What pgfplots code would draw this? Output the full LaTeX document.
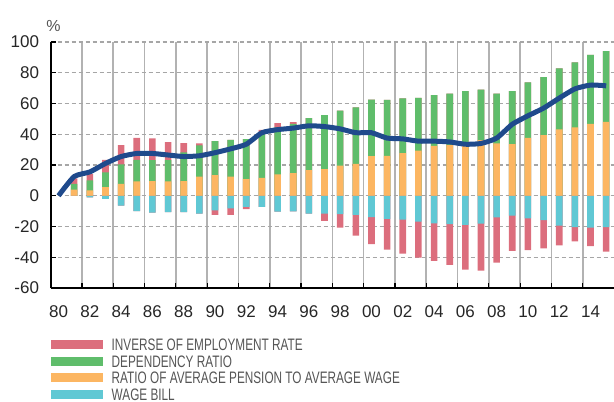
\documentclass[border=0pt]{standalone}
\usepackage{fontspec}
\setmainfont{Liberation Sans}
\newfontfamily\narrowfont[FakeStretch=0.71]{Liberation Sans}
\usepackage{pgfplots}
\usepackage{pgfplotstable}
\pgfplotsset{compat=1.18}
\definecolor{cRed}{HTML}{DC6E7D}
\definecolor{cGreen}{HTML}{5FBD6B}
\definecolor{cOrange}{HTML}{FCB662}
\definecolor{cCyan}{HTML}{60C8D4}
\definecolor{cLine}{HTML}{1F4A8C}
\definecolor{txtGray}{HTML}{555555}

\pgfplotstableread{
year O G Rp C Rn
1981 4.0 3.8 3.5 0 0
1982 3.5 6.5 4.0 -1.0 0
1983 5.6 9.6 8.2 -2.0 0
1984 7.8 12.6 12.5 -6.5 0
1985 9.3 14.1 14.3 -10.0 0
1986 9.5 13.7 14.1 -11.0 0
1987 9.3 13.9 11.7 -10.6 0
1988 9.5 18.7 6.0 -10.6 0
1989 12.4 20.3 1.3 -11.7 0
1990 13.4 22.1 0 -9.5 -2.9
1991 12.4 24.0 0 -8.2 -4.2
1992 10.8 26.0 0 -7.2 -1.5
1993 11.7 29.8 1.4 -7.2 0
1994 13.9 30.5 2.8 -10.4 0
1995 14.7 32.1 1.1 -10.2 0
1996 16.7 33.8 0 -11.7 0
1997 17.3 35.1 0 -11.7 -4.6
1998 19.6 35.8 0 -11.9 -8.9
1999 20.8 36.6 0 -12.4 -13.6
2000 25.8 36.8 0 -13.9 -17.5
2001 26.0 36.4 0 -15.0 -20.1
2002 27.7 35.6 0 -15.6 -22.1
2003 29.3 34.4 0 -16.9 -23.4
2004 32.5 32.9 0 -18.0 -24.3
2005 32.9 33.6 0 -18.4 -26.6
2006 32.3 35.7 0 -19.0 -29.0
2007 36.2 32.9 0 -18.2 -30.5
2008 34.0 32.5 0 -14.1 -29.4
2009 33.6 34.4 0 -13.0 -22.8
2010 37.6 36.1 0 -14.7 -20.6
2011 39.4 37.7 0 -15.8 -18.4
2012 43.1 39.7 0 -19.5 -12.8
2013 44.4 42.3 0 -20.4 -9.3
2014 46.8 44.9 0 -20.8 -11.9
2015 48.1 45.9 0 -20.4 -16.0
}\bars

\pgfplotstableread{
year L
1980 0
1981 12.5
1982 15.5
1983 21
1984 25.5
1985 27.5
1986 27.5
1987 26.5
1988 25.5
1989 26
1990 28
1991 30.5
1992 33.5
1993 41
1994 43
1995 44
1996 45.5
1997 45
1998 43.5
1999 41
2000 41
2001 37.5
2002 37
2003 35.5
2004 35.5
2005 35
2006 33.5
2007 34
2008 37.5
2009 46.5
2010 52
2011 57
2012 63.5
2013 69.5
2014 72
2015 71.5
}\linedata

\begin{document}
\begin{tikzpicture}
\useasboundingbox (0,0) rectangle (307pt,200.5pt);
\begin{axis}[
  at={(25.35pt,56.5pt)}, anchor=south west,
  scale only axis, width=281.65pt, height=123pt,
  xmin=1979.5, xmax=2015.5, ymin=-60, ymax=100,
  axis x line*=bottom, axis y line*=left,
  axis line style={black, line width=0.8pt},
  ybar, bar width=3.3pt,
  xtick={1980,1982,1984,1986,1988,1990,1992,1994,1996,1998,2000,2002,2004,2006,2008,2010,2012,2014},
  xticklabels={80,82,84,86,88,90,92,94,96,98,00,02,04,06,08,10,12,14},
  major x tick style={draw=none},
  minor xtick={1981.5,1983.5,1985.5,1987.5,1989.5,1991.5,1993.5,1995.5,1997.5,1999.5,2001.5,2003.5,2005.5,2007.5,2009.5,2011.5,2013.5},
  xminorgrids, minor x grid style={black!30, line width=0.8pt},
  minor x tick style={black, line width=0.6pt},
  ytick={-60,-40,-20,0,20,40,60,80,100},
  yticklabels={-60,-40,-20,0,20,40,60,80,100},
  ymajorgrids, major y grid style={black!35, line width=0.6pt, dash pattern=on 2pt off 1.5pt},
  extra y ticks={0}, extra y tick labels={},
  extra y tick style={major grid style={solid, black!65, line width=0.8pt}},
  major y tick style={black, line width=0.6pt},
  tick align=inside, major tick length=2.5pt, minor tick length=2.5pt,
  tick label style={font=\fontsize{8.5}{10}\selectfont, text=black!85},
  xticklabel style={yshift=-5.4pt},
  yticklabel style={xshift=-2.3pt},
  legend image code/.code={\fill[#1] (0pt,-2.25pt) rectangle (26pt,2.25pt);},
  legend cell align=left,
  legend style={at={(axis description cs:0,-0.207)}, anchor=north west,
    draw=none, fill=none, inner sep=0pt, outer sep=0pt,
    column sep=4.5pt, row sep=2.2pt,
    font=\narrowfont\fontsize{8.3}{9.6}\selectfont, text=txtGray,
    nodes={inner sep=0pt, text height=6pt, text depth=0pt}},
]
\addplot[fill=cRed, draw=none, bar shift=0pt] table[x=year, y expr=\thisrow{O}+\thisrow{G}+\thisrow{Rp}] {\bars};
\addlegendentry{INVERSE OF EMPLOYMENT RATE}
\addplot[fill=cGreen, draw=none, bar shift=0pt] table[x=year, y expr=\thisrow{O}+\thisrow{G}] {\bars};
\addlegendentry{DEPENDENCY RATIO}
\addplot[fill=cOrange, draw=none, bar shift=0pt] table[x=year, y=O] {\bars};
\addlegendentry{RATIO OF AVERAGE PENSION TO AVERAGE WAGE}
\addplot[fill=cRed, draw=none, bar shift=0pt, forget plot] table[x=year, y expr=\thisrow{C}+\thisrow{Rn}] {\bars};
\addplot[fill=cCyan, draw=none, bar shift=0pt] table[x=year, y=C] {\bars};
\addlegendentry{WAGE BILL}
\addplot[cLine, line width=2.5pt, smooth, tension=0.35, line join=round, forget plot] table[x=year, y=L] {\linedata};
\end{axis}
\node[font=\fontsize{8}{9.6}\selectfont, text=txtGray, inner sep=0pt] at (26.75pt,187.5pt) {\%};
\end{tikzpicture}
\end{document}
